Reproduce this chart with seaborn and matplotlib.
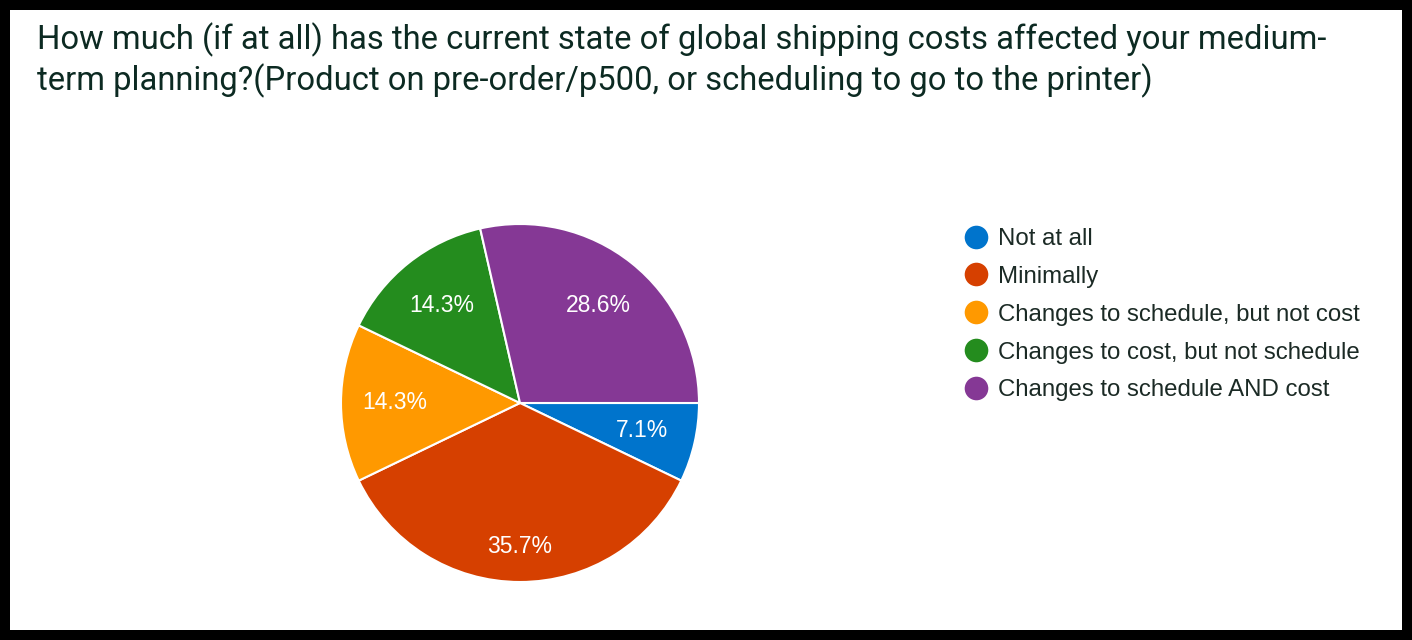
import matplotlib
matplotlib.use("Agg")
import matplotlib.pyplot as plt
import seaborn as sns
from matplotlib.lines import Line2D
from matplotlib.patches import Rectangle

# survey answers (14 responses)
answers = ["Not at all",
           "Minimally",
           "Changes to schedule, but not cost",
           "Changes to cost, but not schedule",
           "Changes to schedule AND cost"]
counts = [1, 5, 2, 2, 4]
colours = ["#0074cc", "#d64000", "#ff9900", "#248c1e", "#853895"]

title_lines = ["How much (if at all) has the current state of global shipping costs affected your medium-",
               "term planning?(Product on pre-order/p500, or scheduling to go to the printer)"]

sns.set_theme(style="white")
plt.rcParams["font.family"] = ["Liberation Sans", "DejaVu Sans"]

W, H = 1412, 640
fig = plt.figure(figsize=(W / 100, H / 100), dpi=100, facecolor="black")

# white card inside the black frame
fig.patches.append(Rectangle((10 / W, 10 / H), (W - 20) / W, (H - 20) / H,
                             transform=fig.transFigure, facecolor="white",
                             edgecolor="none", zorder=-5))

for line, base in zip(title_lines, [49, 90]):
    fig.text(37 / W, 1 - base / H, line, family=["Roboto", "DejaVu Sans"],
             fontsize=23.6, color="#0c2a22", va="baseline", ha="left")

# pie axes: centre (520, 403) px, radius 179 px
r = 179
ax = fig.add_axes([(520 - r) / W, (H - 403 - r) / H, 2 * r / W, 2 * r / H])
pal = sns.color_palette(colours)
wedges, texts, autotexts = ax.pie(counts, colors=pal, startangle=0, counterclock=False,
                                  autopct="%1.1f%%", pctdistance=0.7,
                                  wedgeprops=dict(edgecolor="white", linewidth=1.5),
                                  textprops=dict(color="white", fontsize=16.5))
# google places the big slice label a bit further out
x, y = autotexts[1].get_position()
autotexts[1].set_position((x * 0.8 / 0.7, y * 0.8 / 0.7))
ax.set_xlim(-1, 1)
ax.set_ylim(-1, 1)
ax.set_aspect("equal")
ax.axis("off")

handles = [Line2D([], [], marker="o", linestyle="none", markersize=17,
                  markerfacecolor=c, markeredgecolor="none") for c in colours]
fig.legend(handles, answers, loc="upper left", bbox_to_anchor=(964 / W, 1 - 228 / H),
           frameon=False, fontsize=17.3, labelcolor="#1b2a25", handlelength=0.96,
           handletextpad=0.44, labelspacing=0.66, borderpad=0, borderaxespad=0)

fig.savefig("out.png", dpi=100, facecolor=fig.get_facecolor())
